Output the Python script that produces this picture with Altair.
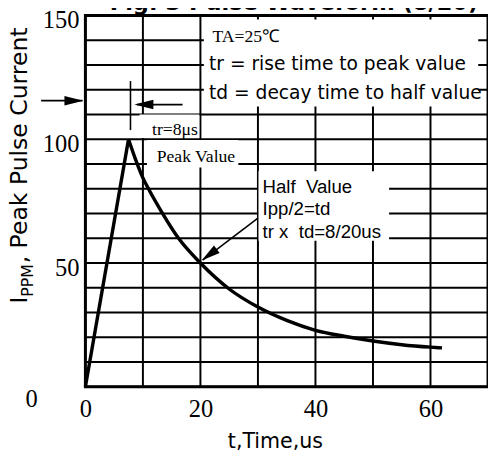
import altair as alt
import pandas as pd

# ---------------- values ----------------
rise_time_us = [0, 7.5]
rise_pct = [0, 100]
decay_time_us = [7.5, 8.7, 10, 11.2, 13.3, 16.2, 20, 25, 30, 35, 40, 45, 50, 55, 60, 62]
decay_pct = [100, 92, 84.4, 79, 70.5, 60, 50, 39.5, 32.2, 26.8, 22.8, 20.4, 18.5, 17.0, 16.0, 15.7]

x_grid = [0, 10, 20, 30, 40, 50, 60, 70]
y_grid = [0, 10, 20, 30, 40, 50, 60, 70, 80, 90, 100, 110, 120, 130, 140, 150]
x_tick_labels = [0, 20, 40, 60]
y_tick_labels = [50, 100, 150]

title_text = "Fig. 3 Pulse Waveform  (8/20)"
x_title = "t,Time,us"
y_title_main = "I"
y_title_sub = "PPM"
y_title_rest = ", Peak Pulse Current"

note_serif = ["TA=25℃", "tr=8μs", "Peak Value"]
note_box = ["tr = rise time to peak value", "td = decay time to half value"]
note_half = ["Half \u00a0Value", "Ipp/2=td", "tr x \u00a0td=8/20us"]

# ---------------- annotation anchors (data coordinates) ----------------
rise = pd.DataFrame({"x": rise_time_us, "y": rise_pct})
decay = pd.DataFrame({"x": decay_time_us, "y": decay_pct})
xg = pd.DataFrame({"x": x_grid})
yg = pd.DataFrame({"y": y_grid})
ylab = pd.DataFrame({"y": y_tick_labels, "t": [str(v) for v in y_tick_labels]})

boxes = pd.DataFrame({
    "x": [20.6, 9.4, 10.7, 30.1],
    "x2": [68.3, 19.8, 26.6, 52.8],
    "y": [148.4, 110.0, 99.7, 87.1],
    "y2": [113.2, 100.5, 88.6, 59.0],
})

shafts = pd.DataFrame({
    "x": [-7.7, 16.9, 30.0, 7.84],
    "x2": [-0.5, 9.0, 20.4, 7.84],
    "y": [115.6, 114.0, 68.1, 103.7],
    "y2": [115.6, 114.0, 51.2, 123.5],
})

heads = pd.DataFrame({
    "x": [-0.34, 8.52, 20.2],
    "y": [115.6, 114.0, 51.0],
    "a": [90, 270, 233.4],
})

serif_df = pd.DataFrame({"t": note_serif, "x": [22.1, 11.6, 12.4], "y": [139.3, 101.7, 91.0]})
box_df = pd.DataFrame({"t": note_box, "x": [21.5, 21.5], "y": [127.8, 116.3]})
half_df = pd.DataFrame({"t": note_half, "x": [30.8, 30.8, 30.8], "y": [78.4, 69.3, 60.2]})

xs = alt.Scale(domain=[0, 70], nice=False, zero=False)
ys = alt.Scale(domain=[0, 150], nice=False, zero=False)


def X(f="x"):
    return alt.X(f"{f}:Q", scale=xs, title=None)


def Y(f="y"):
    return alt.Y(f"{f}:Q", scale=ys, title=None, axis=None)


xgrid_layer = alt.Chart(xg).mark_rule(color="black", strokeWidth=2).encode(
    x=alt.X("x:Q", scale=xs, title=None,
            axis=alt.Axis(values=x_tick_labels, grid=False, labelFlush=False, labelOverlap=False,
                          labelPadding=10, labelBaseline="top"))
)
ygrid_layer = alt.Chart(yg).mark_rule(color="black", strokeWidth=2).encode(y=Y())

box_layer = alt.Chart(boxes).mark_rect(color="white", opacity=1).encode(
    x=X(), x2="x2:Q", y=Y(), y2="y2:Q"
)

rise_layer = alt.Chart(rise).mark_line(color="black", strokeWidth=3.5).encode(x=X(), y=Y())
decay_layer = alt.Chart(decay).mark_line(color="black", strokeWidth=3.5, interpolate="monotone").encode(
    x=X(), y=Y()
)

shaft_layer = alt.Chart(shafts).mark_rule(color="black", strokeWidth=1.6).encode(
    x=X(), x2="x2:Q", y=Y(), y2="y2:Q"
)

head_layer = alt.Chart(heads).mark_point(
    shape="M0,0L-0.25,1L0.25,1Z", filled=True, size=1500, color="black", opacity=1, strokeWidth=0
).encode(x=X(), y=Y(), angle=alt.Angle("a:Q", scale=None))

serif_layer = alt.Chart(serif_df).mark_text(
    font="Liberation Serif", fontSize=18, align="left", baseline="alphabetic", color="black"
).encode(x=X(), y=Y(), text="t:N")

box_text_layer = alt.Chart(box_df).mark_text(
    font="DejaVu Sans", fontSize=19, align="left", baseline="alphabetic", color="black"
).encode(x=X(), y=Y(), text="t:N")

half_layer = alt.Chart(half_df).mark_text(
    font="Liberation Sans", fontSize=19, align="left", baseline="alphabetic", color="black"
).encode(x=X(), y=Y(), text="t:N")

ylab_layer = alt.Chart(ylab).mark_text(
    font="Liberation Serif", fontSize=25, align="right", baseline="middle", dy=5, color="black"
).encode(x=alt.value(-6), y=Y(), text="t:N")

zero_layer = alt.Chart(pd.DataFrame({"t": ["0"], "y": [0]})).mark_text(
    font="Liberation Serif", fontSize=25, align="center", baseline="middle", dy=13, color="black"
).encode(x=alt.value(-55), y=Y(), text="t:N")

xtitle_layer = alt.Chart(pd.DataFrame({"t": [x_title]})).mark_text(
    font="DejaVu Sans", fontSize=21, align="center", baseline="alphabetic", color="black"
).encode(x=alt.value(194), y=alt.value(442), text="t:N")

ytitle_main = alt.Chart(pd.DataFrame({"t": [y_title_main]})).mark_text(
    font="DejaVu Sans", fontSize=24, align="left", baseline="alphabetic", angle=270, color="black"
).encode(x=alt.value(-60), y=alt.value(294), text="t:N")

ytitle_sub = alt.Chart(pd.DataFrame({"t": [y_title_sub]})).mark_text(
    font="DejaVu Sans", fontSize=16, align="left", baseline="alphabetic", angle=270, color="black"
).encode(x=alt.value(-53), y=alt.value(287), text="t:N")

ytitle_rest = alt.Chart(pd.DataFrame({"t": [y_title_rest]})).mark_text(
    font="DejaVu Sans", fontSize=24, align="left", baseline="alphabetic", angle=270, color="black"
).encode(x=alt.value(-60), y=alt.value(253), text="t:N")

title_layer = alt.Chart(pd.DataFrame({"t": [title_text]})).mark_text(
    font="DejaVu Sans", fontSize=23, fontWeight="bold", align="center", baseline="alphabetic", color="black"
).encode(x=alt.value(213), y=alt.value(-6), text="t:N")

chart = alt.layer(
    xgrid_layer, ygrid_layer, box_layer, rise_layer, decay_layer, shaft_layer, head_layer,
    serif_layer, box_text_layer, half_layer, ylab_layer,
    zero_layer, xtitle_layer, ytitle_main, ytitle_sub, ytitle_rest, title_layer,
).properties(
    width=411, height=379,
    autosize="none",
    padding={"left": 79, "top": 3, "right": 0, "bottom": 64},
    background="white",
).configure_view(
    stroke="black", strokeWidth=3
).configure_axis(
    domain=False, ticks=False, tickSize=0, grid=False,
    labelFont="Liberation Serif", labelFontSize=25, labelColor="black",
)

chart.save("out.html", embed_options={"renderer": "svg", "actions": False})
